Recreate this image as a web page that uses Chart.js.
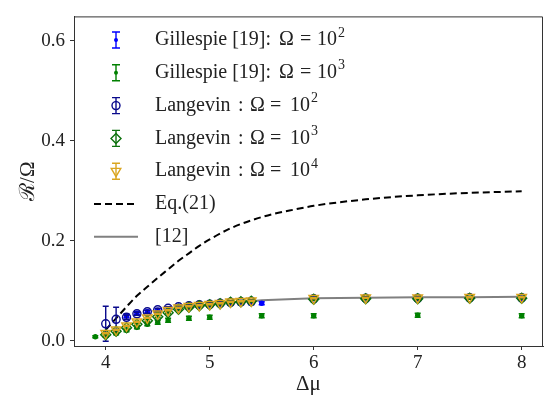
<!DOCTYPE html>
<html>
<head>
<meta charset="utf-8">
<script src="https://cdn.jsdelivr.net/npm/chart.js@4"></script>
<style>
  html, body { margin: 0; padding: 0; background: #fff; }
  canvas { display: block; }
</style>
</head>
<body>
<canvas id="chart" width="544" height="399"></canvas>
<script>
    const FONT = "'Liberation Serif', 'DejaVu Serif', serif";
    const INK = "#222";

    // Langevin runs (same x grid for all three sizes)
    const langevinX = [4.0, 4.1, 4.2, 4.3, 4.4, 4.5, 4.6, 4.7, 4.8, 4.9, 5.0, 5.1, 5.2, 5.3, 5.4, 6.0, 6.5, 7.0, 7.5, 8.0];
    const langevin2 = [0.034, 0.043, 0.047, 0.054, 0.058, 0.062, 0.065, 0.068, 0.070, 0.072, 0.073, 0.075, 0.077, 0.078, 0.079, 0.084, 0.085, 0.085, 0.086, 0.086];
    const langevin2Err = [0.035, 0.024, 0.004, 0.003, 0.003, 0.003, 0.003, 0.003, 0.003, 0.003, 0.003, 0.003, 0.003, 0.003, 0.003, 0.003, 0.003, 0.003, 0.003, 0.003];
    const langevin3 = [0.012, 0.019, 0.026, 0.033, 0.040, 0.048, 0.056, 0.063, 0.067, 0.070, 0.072, 0.074, 0.077, 0.078, 0.079, 0.083, 0.084, 0.084, 0.085, 0.085];
    const langevin3Err = [0.002, 0.002, 0.002, 0.002, 0.002, 0.002, 0.002, 0.002, 0.002, 0.002, 0.002, 0.002, 0.002, 0.002, 0.002, 0.002, 0.002, 0.002, 0.002, 0.002];
    const langevin4 = [0.015, 0.022, 0.030, 0.038, 0.046, 0.054, 0.061, 0.066, 0.069, 0.071, 0.073, 0.075, 0.078, 0.079, 0.080, 0.085, 0.086, 0.086, 0.087, 0.087];
    const langevin4Err = [0.001, 0.001, 0.001, 0.001, 0.001, 0.001, 0.001, 0.001, 0.001, 0.001, 0.001, 0.001, 0.001, 0.001, 0.001, 0.001, 0.001, 0.001, 0.001, 0.001];

    // Gillespie [19]
    const gillespie2X = [4.2, 4.3, 4.4, 4.5, 4.6, 4.7, 4.8, 4.9, 5.0, 5.1, 5.2, 5.3, 5.4, 5.5, 6.0, 7.0, 8.0];
    const gillespie2 = [0.050, 0.055, 0.058, 0.061, 0.064, 0.067, 0.069, 0.071, 0.072, 0.073, 0.074, 0.075, 0.075, 0.075, 0.084, 0.085, 0.085];
    const gillespie2Err = [0.004, 0.003, 0.003, 0.003, 0.003, 0.003, 0.003, 0.003, 0.003, 0.003, 0.003, 0.003, 0.003, 0.003, 0.003, 0.003, 0.003];
    const gillespie3X = [3.9, 4.0, 4.1, 4.2, 4.3, 4.4, 4.5, 4.6, 4.8, 5.0, 5.5, 6.0, 7.0, 8.0];
    const gillespie3 = [0.008, 0.010, 0.015, 0.021, 0.027, 0.033, 0.037, 0.041, 0.045, 0.047, 0.050, 0.050, 0.051, 0.050];
    const gillespie3Err = [0.002, 0.003, 0.003, 0.003, 0.003, 0.003, 0.004, 0.004, 0.004, 0.004, 0.004, 0.004, 0.004, 0.004];

    // Eq.(21) and ref [12]
    const eqX = [4.0, 4.1, 4.2, 4.3, 4.4, 4.5, 4.6, 4.7, 4.8, 4.9, 5.0, 5.2, 5.4, 5.6, 5.8, 6.0, 6.5, 7.0, 7.5, 8.0];
    const eqY = [0.022, 0.045, 0.068, 0.090, 0.108, 0.126, 0.143, 0.160, 0.175, 0.190, 0.203, 0.225, 0.241, 0.253, 0.262, 0.270, 0.283, 0.291, 0.296, 0.299];
    const ref12X = [5.4, 5.5, 6.0, 6.5, 7.0, 7.5, 8.0];
    const ref12Y = [0.079, 0.081, 0.085, 0.086, 0.087, 0.087, 0.088];

    const xTicks = [4, 5, 6, 7, 8];
    const yTicks = [0.0, 0.2, 0.4, 0.6];

    const pts = (xs, ys) => xs.map((x, i) => ({ x, y: ys[i] }));

    function markerSet(label, xs, ys, errs, color, style, radius, extra) {
        return Object.assign({
            label,
            data: pts(xs, ys),
            errors: errs,
            errColor: color,
            showLine: false,
            borderColor: color,
            backgroundColor: "transparent",
            pointStyle: style,
            pointRadius: radius,
            pointBorderWidth: 1.4,
            pointHoverRadius: radius,
        }, extra || {});
    }

    const datasets = [
        markerSet("Langevin : Ω = 10^4", langevinX, langevin4, langevin4Err, "#daa520", "triangle", 5.5, { pointRotation: 180, order: 0 }),
        markerSet("Langevin : Ω = 10^3", langevinX, langevin3, langevin3Err, "#0b700b", "rectRot", 5, { order: 1 }),
        markerSet("Langevin : Ω = 10^2", langevinX, langevin2, langevin2Err, "#0a0a8c", "circle", 4, { order: 2 }),
        markerSet("Gillespie [19]: Ω = 10^3", gillespie3X, gillespie3, gillespie3Err, "#008000", "circle", 2, { backgroundColor: "#008000", order: 3 }),
        markerSet("Gillespie [19]: Ω = 10^2", gillespie2X, gillespie2, gillespie2Err, "#0000ff", "circle", 2, { backgroundColor: "#0000ff", order: 4 }),
        {
            label: "[12]", data: pts(ref12X, ref12Y), showLine: true, borderColor: "#808080",
            borderWidth: 2, pointRadius: 0, order: 5,
        },
        {
            label: "Eq.(21)", data: pts(eqX, eqY), showLine: true, borderColor: "#000",
            borderWidth: 2, borderDash: [7, 4], pointRadius: 0, cubicInterpolationMode: "monotone", order: 6,
        },
    ];

    // error bars drawn under each dataset's markers
    const errorBars = {
        id: "errorBars",
        beforeDatasetDraw(chart, args) {
            const ds = chart.data.datasets[args.index];
            if (!ds.errors) return;
            const { ctx, scales: { x, y } } = chart;
            ctx.save();
            ctx.strokeStyle = ds.errColor;
            ctx.lineWidth = 1.4;
            ds.data.forEach((p, i) => {
                const e = ds.errors[i];
                if (!e) return;
                const px = x.getPixelForValue(p.x);
                const lo = y.getPixelForValue(p.y - e);
                const hi = y.getPixelForValue(p.y + e);
                ctx.beginPath();
                ctx.moveTo(px, lo); ctx.lineTo(px, hi);
                ctx.moveTo(px - 3, lo); ctx.lineTo(px + 3, lo);
                ctx.moveTo(px - 3, hi); ctx.lineTo(px + 3, hi);
                ctx.stroke();
            });
            ctx.restore();
        }
    };

    // legend rows: text pieces are placed like matplotlib mathtext spacing
    const gillespiePieces = [["Gillespie [19]:", 155], ["Ω", 279], ["=", 300], ["10", 317]];
    const langevinPieces = [["Langevin", 155], [":", 238], ["Ω", 250], ["=", 270], ["10", 290]];
    const legendRows = [
        { kind: "err", color: "#0000ff", marker: "dot", pieces: gillespiePieces, sup: "2" },
        { kind: "err", color: "#008000", marker: "dot", pieces: gillespiePieces, sup: "3" },
        { kind: "err", color: "#0a0a8c", marker: "circle", pieces: langevinPieces, sup: "2" },
        { kind: "err", color: "#0b700b", marker: "diamond", pieces: langevinPieces, sup: "3" },
        { kind: "err", color: "#daa520", marker: "triangle", pieces: langevinPieces, sup: "4" },
        { kind: "dash", color: "#000", pieces: [["Eq.(21)", 155]] },
        { kind: "line", color: "#808080", pieces: [["[12]", 155]] },
    ];

    const decorations = {
        id: "decorations",
        afterDraw(chart) {
            const { ctx, chartArea: a } = chart;
            ctx.save();
            ctx.strokeStyle = "#333";
            ctx.lineWidth = 1;
            ctx.beginPath();
            ctx.moveTo(a.left, a.top + 0.5); ctx.lineTo(a.right - 0.5, a.top + 0.5);
            ctx.lineTo(a.right - 0.5, a.bottom);
            ctx.stroke();

            const iconX = 116, y0 = 40, step = 32.8;
            legendRows.forEach((r, i) => {
                const y = y0 + i * step;
                ctx.strokeStyle = r.color;
                ctx.fillStyle = r.color;
                ctx.lineWidth = 1.4;
                ctx.setLineDash([]);
                if (r.kind === "err") {
                    ctx.beginPath();
                    ctx.moveTo(iconX, y - 8); ctx.lineTo(iconX, y + 8);
                    ctx.moveTo(iconX - 4, y - 8); ctx.lineTo(iconX + 4, y - 8);
                    ctx.moveTo(iconX - 4, y + 8); ctx.lineTo(iconX + 4, y + 8);
                    ctx.stroke();
                    ctx.beginPath();
                    if (r.marker === "dot") {
                        ctx.arc(iconX, y, 2, 0, Math.PI * 2); ctx.fill();
                    } else if (r.marker === "circle") {
                        ctx.arc(iconX, y, 4, 0, Math.PI * 2); ctx.stroke();
                    } else if (r.marker === "diamond") {
                        ctx.moveTo(iconX, y - 5); ctx.lineTo(iconX + 5, y); ctx.lineTo(iconX, y + 5);
                        ctx.lineTo(iconX - 5, y); ctx.closePath(); ctx.stroke();
                    } else {
                        ctx.moveTo(iconX - 4.8, y - 2.8); ctx.lineTo(iconX + 4.8, y - 2.8);
                        ctx.lineTo(iconX, y + 5.5); ctx.closePath(); ctx.stroke();
                    }
                } else {
                    ctx.lineWidth = 2;
                    if (r.kind === "dash") ctx.setLineDash([7, 4]);
                    ctx.beginPath();
                    ctx.moveTo(94, y); ctx.lineTo(138, y);
                    ctx.stroke();
                    ctx.setLineDash([]);
                }
                ctx.fillStyle = INK;
                ctx.textBaseline = "middle";
                ctx.font = "20px " + FONT;
                let end = 0;
                r.pieces.forEach(([t, x]) => {
                    ctx.fillText(t, x, y);
                    end = x + ctx.measureText(t).width;
                });
                if (r.sup) {
                    ctx.font = "14px " + FONT;
                    ctx.fillText(r.sup, end + 1, y - 7);
                }
            });
            ctx.restore();
        }
    };

    new Chart(document.getElementById("chart"), {
        type: "scatter",
        data: { datasets },
        plugins: [errorBars, decorations],
        options: {
            responsive: false,
            animation: false,
            events: [],
            layout: { autoPadding: false, padding: { top: 10, right: 1, left: 0, bottom: 0 } },
            plugins: { legend: { display: false }, tooltip: { enabled: false } },
            scales: {
                x: {
                    type: "linear",
                    min: 3.695, max: 8.205,
                    afterFit: s => { s.height = 53; },
                    afterBuildTicks: s => { s.ticks = xTicks.map(v => ({ value: v })); },
                    ticks: { font: { family: FONT, size: 19 }, color: INK, padding: 2, callback: v => String(v) },
                    grid: { drawOnChartArea: false, tickLength: 4, color: "#333" },
                    border: { color: "#333", width: 1 },
                    title: { display: true, text: "Δμ", font: { family: FONT, size: 21 }, color: INK, padding: { top: 0, bottom: 2 } }
                },
                y: {
                    type: "linear",
                    min: -0.0104, max: 0.649,
                    afterFit: s => { s.width = 74; },
                    afterBuildTicks: s => { s.ticks = yTicks.map(v => ({ value: v })); },
                    ticks: { font: { family: FONT, size: 19 }, color: INK, padding: 5, callback: v => v.toFixed(1) },
                    grid: { drawOnChartArea: false, tickLength: 4, color: "#333" },
                    border: { color: "#333", width: 1 },
                    title: { display: true, text: "ℛ/Ω", font: { family: FONT, size: 21 }, color: INK, padding: { top: 16, bottom: 0 } }
                }
            }
        }
    });
</script>
</body>
</html>
